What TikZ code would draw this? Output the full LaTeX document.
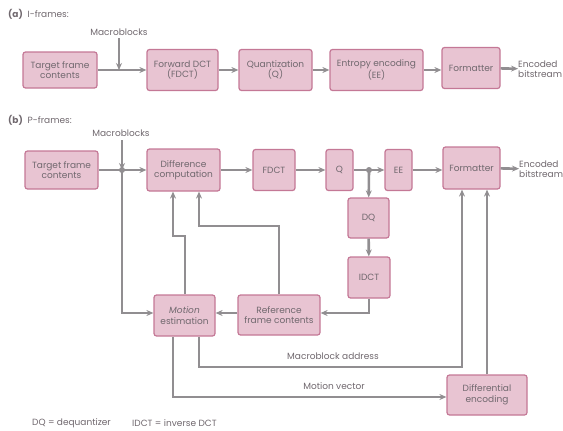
\documentclass[tikz,border=0pt]{standalone}
\usepackage{fontspec}
\setmainfont{Poppins}
\usetikzlibrary{arrows.meta}
\definecolor{boxfill}{RGB}{232,196,210}
\definecolor{boxline}{RGB}{196,120,150}
\definecolor{wire}{RGB}{145,142,145}
\definecolor{txt}{RGB}{112,104,110}
\tikzset{
  blk/.style={draw=boxline, fill=boxfill, line width=1.2pt, rounded corners=2.5pt,
    text=txt, align=center, font=\fontsize{9}{10.5}\selectfont, inner sep=1pt},
  lbl/.style={text=txt, font=\fontsize{9}{10.5}\selectfont, align=left, inner sep=0pt},
  wr/.style={draw=wire, line width=2.6pt},
  arr/.style={wr, -{Stealth[length=7pt,width=6pt]}}
}
\begin{document}
\begin{tikzpicture}[x=1pt,y=-1pt]
\useasboundingbox (0,0) rectangle (563,431);
% (a) I-frames
\node[lbl, anchor=west] (ta) at (8,14) {\textbf{(a)}\ \ I-frames:};
\node[lbl] (mba) at (119,32) {Macroblocks};
\node[blk, minimum width=74pt, minimum height=36pt] (tfa) at (60,70) {Target frame\\contents};
\node[blk, minimum width=71pt, minimum height=41pt] (fdcta) at (182.5,70) {Forward DCT\\(FDCT)};
\node[blk, minimum width=73pt, minimum height=41pt] (qa) at (275.5,70) {Quantization\\(Q)};
\node[blk, minimum width=93pt, minimum height=41pt] (eea) at (376.5,70) {Entropy encoding\\(EE)};
\node[blk, minimum width=58pt, minimum height=41pt] (fmta) at (471,68) {Formatter};
\node[lbl, anchor=west] (outa) at (518,69) {Encoded\\bitstream};
\coordinate (ja) at (119,70);
\draw[arr] (ja |- 0,38) -- (ja);
\draw[arr] (tfa) -- (fdcta);
\draw[arr] (fdcta) -- (qa);
\draw[arr] (qa) -- (eea);
\draw[arr] (eea) -- (eea -| fmta.west);
\draw[arr] (fmta) -- (outa);
% (b) P-frames
\node[lbl, anchor=west] (tb) at (8,120) {\textbf{(b)}\ \ P-frames:};
\node[lbl] (mbb) at (121,133) {Macroblocks};
\node[blk, minimum width=73pt, minimum height=38pt] (tfb) at (61.5,170) {Target frame\\contents};
\node[blk, minimum width=73pt, minimum height=42pt] (diff) at (183.5,170) {Difference\\computation};
\node[blk, minimum width=42pt, minimum height=41pt] (fdctb) at (274,170) {FDCT};
\node[blk, minimum width=27pt, minimum height=41pt] (qb) at (339.5,170) {Q};
\node[blk, minimum width=27pt, minimum height=41pt] (eeb) at (398.5,170) {EE};
\node[blk, minimum width=57pt, minimum height=42pt] (fmtb) at (471.5,168) {Formatter};
\node[lbl, anchor=west] (outb) at (519,169) {Encoded\\bitstream};
\node[blk, minimum width=41pt, minimum height=40pt] (dq) at (368.5,218) {DQ};
\node[blk, minimum width=42pt, minimum height=41pt] (idct) at (369,277.5) {IDCT};
\node[blk, minimum width=82pt, minimum height=40pt] (ref) at (279,315) {Reference\\frame contents};
\node[blk, minimum width=61pt, minimum height=41pt] (me) at (184.5,315.5) {\itshape Motion\\estimation};
\node[blk, minimum width=80pt, minimum height=40pt] (de) at (487,395) {Differential\\encoding};
\node[lbl] (mbaddr) at (333,356) {Macroblock address};
\node[lbl] (mv) at (334,386) {Motion vector};
\coordinate (jb) at (122,170);
\coordinate (jq) at (369,170);
\fill[wire] (jb) circle (3pt);
\fill[wire] (jq) circle (3pt);
\draw[arr] (jb |- 0,140) -- (jb);
\draw[arr] (jb) -- (122,313) -- (me.west |- 0,313);
\draw[arr] (tfb) -- (diff);
\draw[arr] (diff) -- (fdctb);
\draw[arr] (fdctb) -- (qb);
\draw[arr] (qb) -- (eeb);
\draw[arr] (eeb) -- (eeb -| fmtb.west);
\draw[arr] (fmtb) -- (outb);
\draw[arr] (jq) -- (dq);
\draw[arr] (dq) -- (idct);
\draw[arr] (idct) -- (369,313) -- (ref.east |- 0,313);
\draw[arr] (ref.west |- 0,313) -- (me.east |- 0,313);
\draw[arr] (me.north -| 185,0) -- (185,236) -- (173,236) -- (diff.south -| 173,0);
\draw[arr] (ref.north -| 279,0) -- (279,226) -- (199,226) -- (diff.south -| 199,0);
\draw[arr] (me.south -| 199,0) -- (199,367) -- (462,367) -- (fmtb.south -| 462,0);
\draw[arr] (de.north -| 487,0) -- (fmtb.south -| 487,0);
\draw[arr] (me.south -| 173,0) -- (173,397) -- (de.west |- 0,397);
% key
\node[lbl, anchor=west] (kdq) at (32,423) {DQ = dequantizer};
\node[lbl, anchor=west] (kidct) at (132,423) {IDCT = inverse DCT};
\end{tikzpicture}
\end{document}
